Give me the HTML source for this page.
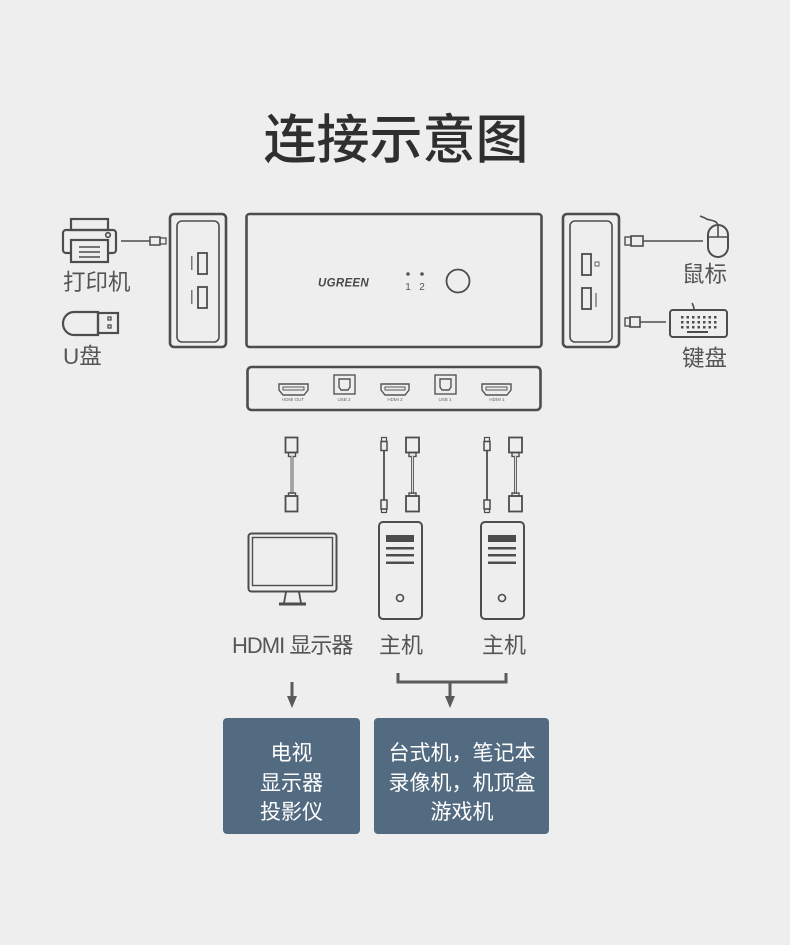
<!DOCTYPE html>
<html><head><meta charset="utf-8"><style>
html,body{margin:0;padding:0;background:#eeeeee;}
svg{display:block;}
text{font-family:"Liberation Sans","Noto Sans CJK SC",sans-serif;}
</style></head><body>
<svg width="790" height="945" viewBox="0 0 790 945" xmlns="http://www.w3.org/2000/svg">
<rect width="790" height="945" fill="#eeeeee"/>
<!-- Title -->
<text x="396" y="158" text-anchor="middle" font-size="53" fill="#2f2f2f" style="font-family:'Noto Sans CJK SC',sans-serif" font-weight="500">连接示意图</text>

<g fill="none" stroke="#4d4d4d" stroke-width="2.6">
  <!-- left module -->
  <rect x="170" y="214" width="56" height="133" rx="4"/>
  <rect x="177" y="221" width="42" height="121" rx="5" stroke-width="1.6"/>
  <rect x="198" y="253" width="9" height="21" stroke-width="1.8"/>
  <rect x="198" y="287" width="9" height="21" stroke-width="1.8"/>
  <!-- main box -->
  <rect x="246.5" y="214" width="295" height="133" rx="3"/>
  <circle cx="458" cy="281" r="11.5" stroke-width="1.8"/>
  <!-- right module -->
  <rect x="563" y="214" width="56" height="133" rx="4"/>
  <rect x="570" y="221" width="42" height="121" rx="5" stroke-width="1.6"/>
  <rect x="582" y="254" width="9" height="21" stroke-width="1.8"/>
  <rect x="582" y="288" width="9" height="21" stroke-width="1.8"/>
  <!-- bottom strip -->
  <rect x="247.5" y="367" width="293" height="43" rx="4"/>
</g>
<!-- small labels in modules -->
<g fill="#777">
  <rect x="191" y="256" width="1.5" height="14"/>
  <rect x="191" y="290" width="1.5" height="14"/>
  <rect x="595" y="262" width="4" height="4" fill="none" stroke="#666" stroke-width="1"/>
  <rect x="595" y="293" width="2" height="14" fill="#999"/>
</g>
<!-- UGREEN logo -->
<text x="318" y="286.5" font-size="11.5" font-weight="bold" font-style="italic" fill="#4a4a4a" letter-spacing="0.3">UGREEN</text>
<circle cx="408" cy="274" r="1.8" fill="#555"/>
<circle cx="422" cy="274" r="1.8" fill="#555"/>
<text x="408" y="290" font-size="10" text-anchor="middle" fill="#555">1</text>
<text x="422" y="290" font-size="10" text-anchor="middle" fill="#555">2</text>

<!-- Bottom strip ports -->
<g fill="none" stroke="#555" stroke-width="1.4">
  <path d="M279,384 h29 v6 l-4,5 h-21 l-4,-5 z"/>
  <rect x="283" y="387" width="21" height="3" stroke-width="1"/>
  <path d="M381,384 h28 v6 l-4,5 h-20 l-4,-5 z"/>
  <rect x="385" y="387" width="20" height="3" stroke-width="1"/>
  <path d="M482,384 h29 v6 l-4,5 h-21 l-4,-5 z"/>
  <rect x="486" y="387" width="21" height="3" stroke-width="1"/>
  <rect x="334" y="375" width="21" height="19"/>
  <path d="M339,379 h11 v8 l-2,3 h-7 l-2,-3 z"/>
  <rect x="435" y="375" width="21" height="19"/>
  <path d="M440,379 h11 v8 l-2,3 h-7 l-2,-3 z"/>
</g>
<g font-size="4.5" fill="#666" text-anchor="middle">
  <text x="293" y="401">HDMI OUT</text>
  <text x="344" y="401">USB 2</text>
  <text x="395" y="401">HDMI 2</text>
  <text x="445" y="401">USB 1</text>
  <text x="497" y="401">HDMI 1</text>
</g>

<!-- Printer -->
<g fill="none" stroke="#4d4d4d" stroke-width="2.2">
  <rect x="71" y="219" width="37" height="11"/>
  <rect x="63" y="230" width="53" height="23" rx="3"/>
  <rect x="71" y="240" width="37" height="22" fill="#eeeeee"/>
  <line x1="79" y1="247" x2="100" y2="247" stroke-width="1.6"/>
  <line x1="79" y1="252" x2="100" y2="252" stroke-width="1.6"/>
  <line x1="79" y1="257" x2="100" y2="257" stroke-width="1.6"/>
  <circle cx="108" cy="235" r="2.3" stroke-width="1.6"/>
  <!-- printer cable -->
  <line x1="121" y1="241" x2="150" y2="241" stroke-width="1.6"/>
  <rect x="150" y="237" width="10" height="8" stroke-width="1.5"/>
  <rect x="160" y="238" width="6" height="6" stroke-width="1.3"/>
  <!-- USB disk -->
  <path d="M98,312 H74 a11,11.5 0 0 0 0,23 H98 z"/>
  <rect x="98" y="313" width="20" height="20"/>
  <rect x="108" y="317" width="3" height="3" stroke-width="1.3"/>
  <rect x="108" y="325" width="3" height="3" stroke-width="1.3"/>
</g>
<text x="63" y="290" font-size="22.5" fill="#555">打印机</text>
<text x="63" y="364" font-size="22.5" fill="#555">U盘</text>

<!-- Mouse and keyboard -->
<g fill="none" stroke="#4d4d4d" stroke-width="2">
  <rect x="625" y="237" width="6" height="8" stroke-width="1.4"/>
  <rect x="631" y="236" width="12" height="10" stroke-width="1.6"/>
  <line x1="643" y1="241" x2="703" y2="241" stroke-width="1.6"/>
  <rect x="708" y="225" width="20" height="32" rx="10"/>
  <path d="M718,225 v12 M708,237 h20" stroke-width="1.6"/>
  <path d="M718,225 c-2,-6 -10,-4 -13,-7 l-5,-2" stroke-width="1.6"/>
  <rect x="625" y="318" width="5" height="8" stroke-width="1.4"/>
  <rect x="630" y="317" width="10" height="10" stroke-width="1.6"/>
  <line x1="640" y1="322" x2="666" y2="322" stroke-width="1.6"/>
  <rect x="670" y="310" width="57" height="27" rx="3"/>
  <path d="M694,310 c0,-4 -1,-5 -2,-7" stroke-width="1.6"/>
  <line x1="687" y1="332" x2="708" y2="332" stroke-width="2"/>
</g>
<g fill="#4d4d4d">
  <g id="kr">
    <rect x="681" y="316" width="2.5" height="2.5"/><rect x="686.5" y="316" width="2.5" height="2.5"/><rect x="692" y="316" width="2.5" height="2.5"/><rect x="697.5" y="316" width="2.5" height="2.5"/><rect x="703" y="316" width="2.5" height="2.5"/><rect x="708.5" y="316" width="2.5" height="2.5"/><rect x="714" y="316" width="2.5" height="2.5"/>
  </g>
  <use href="#kr" y="5"/>
  <use href="#kr" y="10"/>
</g>
<text x="682" y="282" font-size="22.5" fill="#555">鼠标</text>
<text x="682" y="366" font-size="22.5" fill="#555">键盘</text>

<!-- Cables -->
<g fill="none" stroke="#4d4d4d">
  <!-- HDMI cable 1 -->
  <rect x="285.5" y="437.5" width="12" height="15" stroke-width="1.8"/>
  <rect x="288.5" y="452.5" width="7" height="4" stroke-width="1.4"/>
  <line x1="292" y1="456" x2="292" y2="494" stroke="#666" stroke-width="3"/>
  <line x1="292" y1="456" x2="292" y2="494" stroke="#ddd" stroke-width="1"/>
  <rect x="288.5" y="493" width="7" height="3" stroke-width="1.4"/>
  <rect x="285.5" y="496" width="12" height="15.5" stroke-width="1.8"/>
  <!-- USB cable 1 -->
  <rect x="381.5" y="437.5" width="5" height="4" stroke-width="1.2"/>
  <rect x="381" y="441.5" width="6" height="9" stroke-width="1.5"/>
  <line x1="384" y1="450" x2="384" y2="500" stroke-width="1.8"/>
  <rect x="381" y="500" width="6" height="9" stroke-width="1.5"/>
  <rect x="381.5" y="509" width="5" height="3.5" stroke-width="1.2"/>
  <!-- HDMI cable 2 -->
  <rect x="406" y="437.5" width="13" height="15" stroke-width="1.8"/>
  <rect x="409" y="452.5" width="7" height="4" stroke-width="1.4"/>
  <line x1="412.5" y1="456" x2="412.5" y2="494" stroke="#666" stroke-width="3"/>
  <line x1="412.5" y1="456" x2="412.5" y2="494" stroke="#ddd" stroke-width="1"/>
  <rect x="409" y="493" width="7" height="3" stroke-width="1.4"/>
  <rect x="406" y="496" width="13" height="15.5" stroke-width="1.8"/>
  <!-- USB cable 2 -->
  <rect x="484.5" y="437.5" width="5" height="4" stroke-width="1.2"/>
  <rect x="484" y="441.5" width="6" height="9" stroke-width="1.5"/>
  <line x1="487" y1="450" x2="487" y2="500" stroke-width="1.8"/>
  <rect x="484" y="500" width="6" height="9" stroke-width="1.5"/>
  <rect x="484.5" y="509" width="5" height="3.5" stroke-width="1.2"/>
  <!-- HDMI cable 3 -->
  <rect x="509" y="437.5" width="13" height="15" stroke-width="1.8"/>
  <rect x="512" y="452.5" width="7" height="4" stroke-width="1.4"/>
  <line x1="515.5" y1="456" x2="515.5" y2="494" stroke="#666" stroke-width="3"/>
  <line x1="515.5" y1="456" x2="515.5" y2="494" stroke="#ddd" stroke-width="1"/>
  <rect x="512" y="493" width="7" height="3" stroke-width="1.4"/>
  <rect x="509" y="496" width="13" height="15.5" stroke-width="1.8"/>
</g>

<!-- Monitor -->
<g fill="none" stroke="#4d4d4d" stroke-width="2">
  <rect x="248.5" y="533.5" width="88" height="58" rx="3"/>
  <rect x="252.5" y="537.5" width="80" height="48" stroke-width="1.4"/>
  <path d="M286,592 l-2,11 M299,592 l2,11" stroke-width="1.8"/>
  <line x1="279" y1="604" x2="306" y2="604" stroke-width="3"/>
</g>
<!-- Towers -->
<g id="tower">
  <rect x="379" y="522" width="43" height="97" rx="4" fill="none" stroke="#4d4d4d" stroke-width="2"/>
  <rect x="386" y="535" width="28" height="7" fill="#4d4d4d"/>
  <rect x="386" y="547" width="28" height="2.5" fill="#4d4d4d"/>
  <rect x="386" y="554" width="28" height="2.5" fill="#4d4d4d"/>
  <rect x="386" y="561.5" width="28" height="2.5" fill="#4d4d4d"/>
  <circle cx="400" cy="598" r="3.5" fill="none" stroke="#4d4d4d" stroke-width="1.6"/>
</g>
<use href="#tower" x="102"/>

<!-- Labels -->
<text x="232" y="653" font-size="22" fill="#555" letter-spacing="-1">HDMI 显示器</text>
<text x="379" y="653" font-size="22" fill="#555">主机</text>
<text x="482" y="653" font-size="22" fill="#555">主机</text>

<!-- Bracket & arrows -->
<g stroke="#5a5a5a" stroke-width="3" fill="none">
  <path d="M398,673 V682 H506 V673"/>
  <line x1="450" y1="682" x2="450" y2="697"/>
  <line x1="292" y1="682" x2="292" y2="697"/>
</g>
<path d="M445,696 h10 l-5,12 z" fill="#5a5a5a"/>
<path d="M287,696 h10 l-5,12 z" fill="#5a5a5a"/>

<!-- Boxes -->
<rect x="223" y="718" width="137" height="116" rx="4" fill="#536b81"/>
<rect x="374" y="718" width="175" height="116" rx="4" fill="#536b81"/>
<g font-size="21" fill="#ffffff" text-anchor="middle">
  <text x="291.5" y="760">电视</text>
  <text x="291.5" y="790">显示器</text>
  <text x="291.5" y="819">投影仪</text>
  <text x="462" y="760">台式机，笔记本</text>
  <text x="462" y="790">录像机，机顶盒</text>
  <text x="462" y="819">游戏机</text>
</g>
</svg>
</body></html>
